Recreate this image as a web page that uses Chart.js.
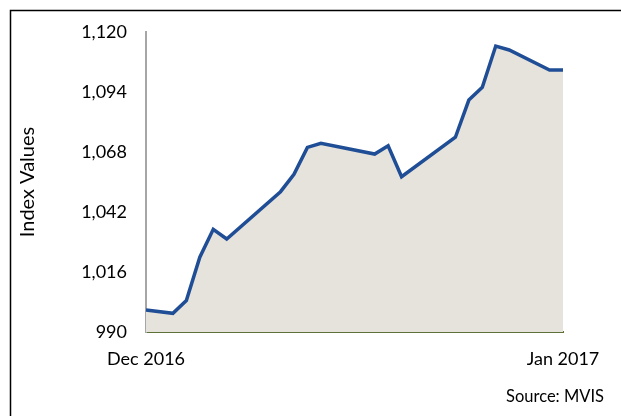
<!DOCTYPE html>
<html>
<head>
<meta charset="utf-8">
<script src="https://cdn.jsdelivr.net/npm/chart.js@4"></script>
<style>
  body { margin: 0; background: #fff; }
  #wrap { width: 621px; height: 416px; }
</style>
</head>
<body>
<div id="wrap"><canvas id="indexChart" width="621" height="416"></canvas></div>
<script>
// 32 daily slots, Dec 2016 -> Jan 2017; null = no reading (line spans across)
var dayLabels = ['Dec 2016', '', '', '', '', '', '', '', '', '', '', '', '', '', '', '',
                 '', '', '', '', '', '', '', '', '', '', '', '', '', '', '', 'Jan 2017'];
var indexValues = [999.5, null, 998.1, 1003.6, 1022.4, 1034.5, 1030.3, null, null, null,
                   1050.8, 1058.3, 1070.0, 1071.8, null, null, null, 1067.1, 1070.7, 1057.3,
                   null, null, null, 1074.4, 1090.5, 1096.0, 1113.9, 1112.2, null, null,
                   1103.5, 1103.5];
var yTicks = [990, 1016, 1042, 1068, 1094, 1120];

var fontName = 'Lato, "Open Sans", sans-serif';

// frame around the picture + source note
var framePlugin = {
  id: 'frame',
  afterDraw: function (chart) {
    var c = chart.ctx;
    c.save();
    c.strokeStyle = '#000';
    c.lineWidth = 1.5;
    c.strokeRect(10.5, 10.5, 700, 500);
    c.fillStyle = '#000';
    c.font = '16.5px ' + fontName;
    c.textAlign = 'right';
    c.textBaseline = 'middle';
    c.fillText('Source: MVIS', 604, 397);
    c.restore();
  }
};

var ctx = document.getElementById('indexChart').getContext('2d');
var indexChart = new Chart(ctx, {
  type: 'line',
  data: {
    labels: dayLabels,
    datasets: [{
      label: 'Index',
      data: indexValues,
      borderColor: '#1F4E96',
      backgroundColor: '#E6E2DC',
      borderWidth: 3.5,
      pointRadius: 0,
      tension: 0,
      spanGaps: true,
      fill: 'start'
    }]
  },
  options: {
    responsive: false,
    animation: false,
    layout: { padding: { left: 10, top: 32, right: 58, bottom: 50 } },
    plugins: {
      legend: { display: false },
      tooltip: { enabled: false }
    },
    scales: {
      x: {
        offset: false,
        grid: { display: false, drawTicks: false },
        border: { color: '#5E7238', width: 2 },
        ticks: {
          autoSkip: false,
          maxRotation: 0,
          padding: 16,
          color: '#000',
          font: { family: fontName, size: 18 }
        },
        afterFit: function (axis) { axis.height = 34; }
      },
      y: {
        min: 990,
        max: 1120,
        afterBuildTicks: function (axis) {
          axis.ticks = yTicks.map(function (v) { return { value: v }; });
        },
        grid: { display: false, drawTicks: false },
        border: { color: '#A6A6A6', width: 2 },
        ticks: {
          padding: 19,
          color: '#000',
          font: { family: fontName, size: 18 },
          callback: function (v) { return v.toLocaleString('en-US'); }
        },
        title: {
          display: true,
          text: 'Index Values',
          color: '#000',
          font: { family: fontName, size: 20 },
          padding: { top: 6, bottom: 0 }
        },
        afterFit: function (axis) { axis.width = 136; }
      }
    }
  },
  plugins: [framePlugin]
});
</script>
</body>
</html>
